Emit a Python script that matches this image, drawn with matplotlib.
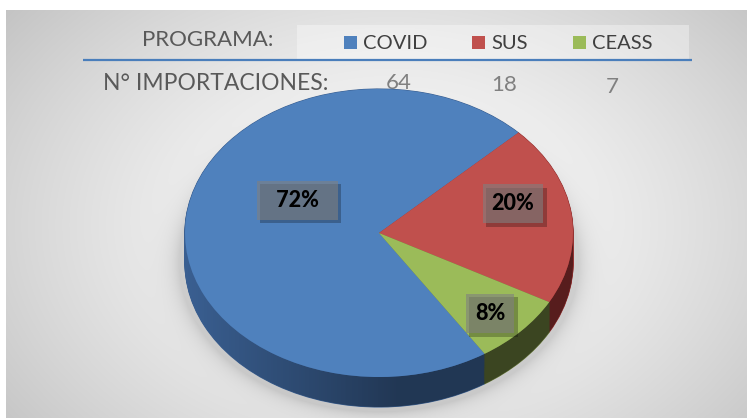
import numpy as np
import matplotlib
matplotlib.use('Agg')
import matplotlib.pyplot as plt
from matplotlib.patches import Rectangle
from matplotlib.path import Path
import matplotlib.patheffects as pe

# ---- data ----
categories = ['COVID', 'SUS', 'CEASS']
importaciones = [64, 18, 7]
header_label = 'PROGRAMA:'
row_label = 'N° IMPORTACIONES:'

# ---- style ----
top_colors = ['#4f81bd', '#c0504d', '#9bbb59']
side_colors = ['#3a5f91', '#963232', '#67783a']
txt_gray = '#595959'

W, H = 747, 418
plt.rcParams['font.family'] = ['Lato', 'DejaVu Sans']
fig = plt.figure(figsize=(W / 100, H / 100), dpi=100, facecolor='white')

# background (pixel coordinates)
bg = fig.add_axes([0, 0, 1, 1])
xs = np.arange(6, W) + 0.5
ys = np.arange(10, H) + 0.5
X, Y = np.meshgrid(xs, ys)
r = np.sqrt(((X - 390) / 420) ** 2 + ((Y - 225) / 300) ** 2)
val = 252 - 45 * r ** 1.5
rs = np.sqrt(((X - 379) / 200) ** 2 + ((Y - 262) / 150) ** 2)
val -= 30 * np.exp(-np.clip(rs - 1, 0, None) / 0.05)
val = np.clip(val, 0, 255) / 255
img = np.dstack([val, val, val])
bg.imshow(img, extent=(6, W, H, 10), interpolation='bilinear', zorder=0, aspect='auto')
bg.set_xlim(0, W)
bg.set_ylim(H, 0)
bg.axis('off')

# header band / legend
bg.add_patch(Rectangle((297, 25), 392, 34, facecolor='white', alpha=0.35,
                       edgecolor='none', zorder=1))
bg.plot([83, 692], [60, 60], color='#4a7ebb', lw=1.6, zorder=2, solid_capstyle='butt')
bg.text(142, 46, header_label, fontsize=16, color=txt_gray, va='baseline', ha='left', zorder=3)
bg.text(103, 90, row_label, fontsize=16.5, color=txt_gray, va='baseline', ha='left', zorder=3)

leg_sq_x = [344, 472, 573]
num_x = [399, 504, 612]
num_y = [89, 91, 93]
for i, (cat, col) in enumerate(zip(categories, top_colors)):
    bg.add_patch(Rectangle((leg_sq_x[i], 36), 13, 13, facecolor=col, edgecolor='none', zorder=3))
    bg.text(leg_sq_x[i] + 19, 49, cat, fontsize=14.5, color='#404040', va='baseline', zorder=3)
    bg.text(num_x[i], num_y[i], str(importaciones[i]), fontsize=16, color='#808080',
            ha='center', va='baseline', zorder=3)

# ---- 3D-looking pie ----
x0, x1 = 185, 573
ytop, yface_bot, depth_px = 89, 377, 30
b = (yface_bot - ytop) / 2
d = depth_px / b
ax = fig.add_axes([x0 / W, (H - (yface_bot + depth_px)) / H, (x1 - x0) / W,
                   (yface_bot + depth_px - ytop) / H])
start = -57
for k in np.linspace(d, 0, 30):
    ws, _ = ax.pie(importaciones, colors=side_colors, startangle=start, counterclock=False,
                   center=(0, -k), radius=1, frame=False)
    for w in ws:
        w.set_edgecolor(w.get_facecolor())
        w.set_linewidth(0.8)

# horizontal shading of the side wall
tt = np.linspace(np.pi, 2 * np.pi, 200)
upper = np.column_stack([np.cos(tt), np.sin(tt)])
lower = np.column_stack([np.cos(tt[::-1]), np.sin(tt[::-1]) - d])
side_path = Path(np.vstack([upper, lower, upper[:1]]), closed=True)
gx = np.linspace(-1, 1, 300)
alpha = np.clip(0.42 * (gx + 1) / 1.1, 0, 0.42)
shade = np.zeros((2, gx.size, 4))
shade[..., 3] = alpha
im = ax.imshow(shade, extent=(-1, 1, -1 - d, 0), aspect='auto', zorder=1,
               interpolation='bilinear')
im.set_clip_path(side_path, ax.transData)

wedges, _ = ax.pie(importaciones, colors=top_colors, startangle=start, counterclock=False,
                   radius=1, frame=False, wedgeprops=dict(linewidth=0))
ax.set_xlim(-1, 1)
ax.set_ylim(-1 - d, 1)
ax.set_aspect('auto')
ax.axis('off')

total = sum(importaciones)
pcts = [round(v / total * 100) for v in importaciones]
label_r = [0.48, 0.72, 0.80]
label_dang = [-22, 8.7, -1.5]
label_txt = ['  {}%  ', '{}%', '{}%']
for w, p, rr, da, fmt in zip(wedges, pcts, label_r, label_dang, label_txt):
    th = np.deg2rad((w.theta1 + w.theta2) / 2 + da)
    t = ax.text(rr * np.cos(th), rr * np.sin(th), fmt.format(p), ha='center', va='center',
                fontsize=15.5, fontweight='black', color='black', zorder=5,
                bbox=dict(boxstyle='square,pad=0.42', facecolor=(0.5, 0.5, 0.5, 0.6),
                          edgecolor='none'))
    t.get_bbox_patch().set_path_effects([
        pe.SimplePatchShadow(offset=(2.5, -2.5), alpha=0.25, shadow_rgbFace='black'),
        pe.Normal()])

fig.savefig('out.png', dpi=100)
